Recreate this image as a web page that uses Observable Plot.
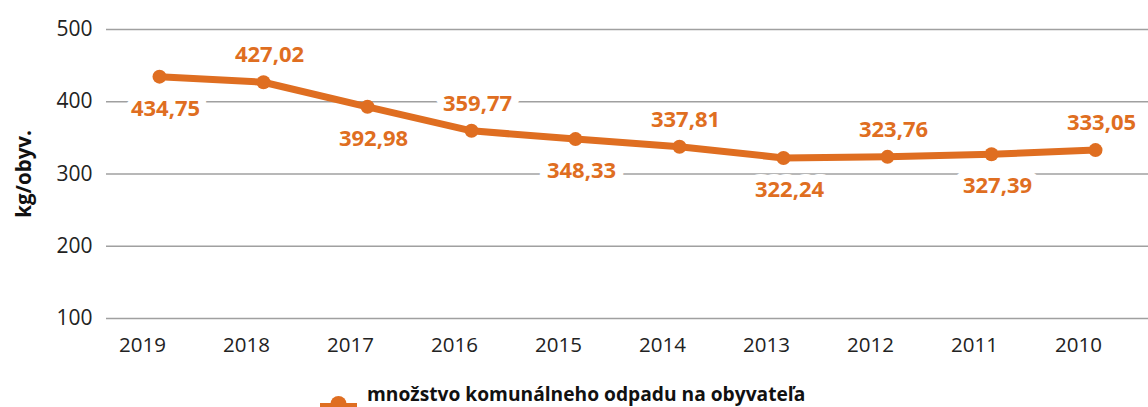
<!DOCTYPE html>
<html>
<head>
<meta charset="utf-8">
<script src="https://cdn.jsdelivr.net/npm/d3@7"></script>
<script src="https://cdn.jsdelivr.net/npm/@observablehq/plot@0.6"></script>
<style>
  html, body { margin: 0; padding: 0; background: #fff; }
  body { width: 1148px; height: 407px; overflow: hidden; font-family: "Open Sans", Lato, sans-serif; }
  #chart svg { display: block; }
  #chart [aria-label="y-axis label"] text { font-weight: 700; font-size: 20.5px; fill: #111; }
  .legend { position: relative; height: 29px; }
  .legend .sw { position: absolute; left: 320px; top: 16px; }
  .legend .lt { position: absolute; left: 367px; top: 4px; font-weight: 700; font-size: 19.2px; color: #111; white-space: nowrap; line-height: 24px; }
</style>
</head>
<body>
<div id="chart"></div>
<div class="legend">
  <svg class="sw" width="40" height="20"><rect x="0" y="9" width="37" height="8" fill="#df6e21"></rect><circle cx="18.5" cy="10" r="8" fill="#df6e21"></circle></svg>
  <span class="lt">množstvo komunálneho odpadu na obyvateľa</span>
</div>
<script>
const years = ["2019","2018","2017","2016","2015","2014","2013","2012","2011","2010"];
const values = [434.75, 427.02, 392.98, 359.77, 348.33, 337.81, 322.24, 323.76, 327.39, 333.05];
const labels = ["434,75","427,02","392,98","359,77","348,33","337,81","322,24","323,76","327,39","333,05"];
const labelSide = ["below","above","below","above","below","above","below","above","below","above"];
const yTicks = [100, 200, 300, 400, 500];
const seriesName = "množstvo komunálneho odpadu na obyvateľa";
const yLabel = "kg/obyv.";

const data = years.map((y, i) => ({year: y, value: values[i], label: labels[i], side: labelSide[i]}));
const color = "#df6e21";

const chart = Plot.plot({
  width: 1148,
  height: 378,
  marginLeft: 106,
  marginRight: 0,
  marginTop: 29,
  marginBottom: 60,
  style: {fontFamily: "'Open Sans', Lato, sans-serif", fontSize: "21px", color: "#222", background: "#fff"},
  x: {type: "point", domain: years, padding: 0.5, label: null},
  y: {domain: [100, 500], label: null},
  marks: [
    Plot.ruleY(yTicks, {stroke: "#a0a0a0", strokeWidth: 1.6}),
    Plot.axisY({ticks: yTicks, tickSize: 0, tickPadding: 14, label: yLabel, labelAnchor: "center", labelArrow: "none", labelOffset: 90, fontSize: 21, fill: "#222"}),
    Plot.axisX({tickSize: 0, tickPadding: 19, dx: -17, label: null, fontSize: 20.5, fill: "#222"}),
    Plot.line(data, {x: "year", y: "value", stroke: color, strokeWidth: 7, strokeLinejoin: "round"}),
    Plot.dot(data, {x: "year", y: "value", r: 7, fill: color}),
    Plot.text(data.filter(d => d.side === "above"), {x: "year", y: "value", text: "label", dy: -27, dx: 6, fill: color, fontWeight: 700, fontSize: 22, stroke: "white", strokeWidth: 16, paintOrder: "stroke"}),
    Plot.text(data.filter(d => d.side === "below"), {x: "year", y: "value", text: "label", dy: 32, dx: 6, fill: color, fontWeight: 700, fontSize: 22, stroke: "white", strokeWidth: 16, paintOrder: "stroke"})
  ]
});
document.getElementById("chart").appendChild(chart);
</script>
</body>
</html>
